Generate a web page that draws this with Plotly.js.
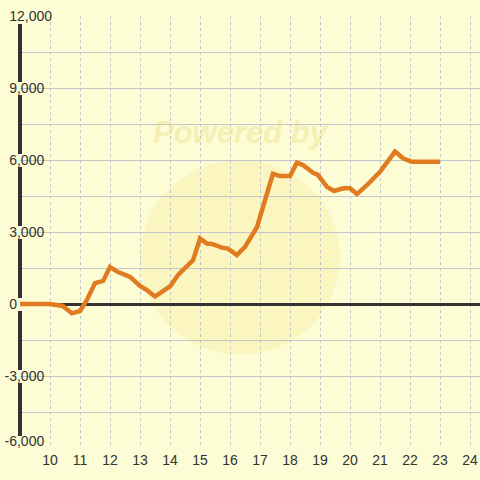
<!DOCTYPE html>
<html>
<head>
<meta charset="utf-8">
<script src="https://cdn.plot.ly/plotly-3.0.1.min.js"></script>
<style>
html,body{margin:0;padding:0;background:#fcfcd5;}
#chart{width:480px;height:480px;}
</style>
</head>
<body>
<div id="chart"></div>
<script>
// Data
var xValues = [9.0, 10.0, 10.43, 10.73, 11.0, 11.23, 11.5, 11.77, 12.0, 12.27, 12.67, 13.0, 13.23, 13.5, 14.0, 14.27, 14.77, 15.0, 15.23, 15.4, 15.73, 15.93, 16.23, 16.5, 16.9, 17.1, 17.43, 17.67, 18.0, 18.23, 18.43, 18.77, 18.93, 19.23, 19.47, 19.77, 20.0, 20.23, 20.57, 21.0, 21.5, 21.77, 22.05, 23.0];
var yValues = [0, 0, -80, -390, -290, 170, 870, 960, 1540, 1330, 1130, 750, 580, 310, 730, 1210, 1830, 2730, 2520, 2500, 2350, 2310, 2040, 2380, 3210, 4000, 5420, 5330, 5330, 5890, 5790, 5470, 5380, 4880, 4710, 4820, 4820, 4580, 4960, 5510, 6350, 6070, 5930, 5930];
var yTickVals = [-4500, -3000, -1500, 0, 1500, 3000, 4500, 6000, 7500, 9000, 10500, 12000];
var yTickText = ['', '-3,000', '', '0', '', '3,000', '', '6,000', '', '9,000', '', '12,000'];
var yBottomTickVals = [-6000];
var yBottomTickText = ['-6,000'];
var xTickVals = [10, 11, 12, 13, 14, 15, 16, 17, 18, 19, 20, 21, 22, 23, 24];

var bg = '#fcfcd5';
var FS = '\u2007', PS = '\u2008';
// pad labels so that they line up on the left like in the reference
function padLabel(t) {
  if (t === '') return t;
  if (t === '12,000') return t;
  if (t === '0') return t + FS + FS + FS + FS + PS;
  return t + FS;
}

var trace = {
  x: xValues, y: yValues, type: 'scatter', mode: 'lines',
  line: {color: '#e07b22', width: 4.5, shape: 'linear'},
  hoverinfo: 'skip'
};

// y-axis spine, broken where the tick labels sit
var spineSegments = [[11667, 9250], [8708, 6250], [5708, 3250], [2708, 250], [-292, -2750], [-3292, -5500]];
var shapes = [
  {type: 'circle', xref: 'x', yref: 'y', x0: 13.0, x1: 19.67, y0: -2100, y1: 6000,
   fillcolor: 'rgba(250,225,110,0.2)', line: {width: 0}, layer: 'below'}
];
spineSegments.forEach(function (s) {
  shapes.push({type: 'line', xref: 'paper', yref: 'y', x0: 0, x1: 0, y0: s[0], y1: s[1],
    line: {color: '#333333', width: 4}, layer: 'above'});
});

var layout = {
  width: 480, height: 480,
  margin: {l: 20, r: 0, t: 16, b: 32, pad: 0},
  paper_bgcolor: bg, plot_bgcolor: bg,
  showlegend: false,
  font: {family: 'Liberation Sans, Arial, sans-serif', size: 14, color: '#333333'},
  xaxis: {
    range: [9, 24.333], tickvals: xTickVals, ticktext: xTickVals.map(String),
    showgrid: true, gridcolor: '#c4c4cc', gridwidth: 1, griddash: '3px,3px',
    zeroline: false, showline: false, ticks: '', ticklabelstandoff: 2,
    tickfont: {size: 14, color: '#333333'}
  },
  yaxis: {
    range: [-6000, 12000],
    tickvals: yTickVals,
    ticktext: yTickText.map(padLabel),
    showgrid: true, gridcolor: '#c4c4cc', gridwidth: 1,
    zeroline: true, zerolinecolor: '#333333', zerolinewidth: 3,
    showline: false, ticks: '',
    ticklabelposition: 'outside', ticklabelstandoff: -33,
    tickfont: {size: 14, color: '#333333'}
  },
  yaxis2: {
    overlaying: 'y', side: 'left', anchor: 'x',
    range: [-6000, 12000],
    tickvals: yBottomTickVals,
    ticktext: yBottomTickText.map(padLabel),
    showgrid: true, gridcolor: '#c4c4cc', gridwidth: 1,
    zeroline: false, showline: false, ticks: '',
    ticklabelposition: 'outside', ticklabelstandoff: -33, ticklabelshift: -7,
    tickfont: {size: 14, color: '#333333'}
  },
  shapes: shapes,
  annotations: [
    {text: '<b><i>Powered by</i></b>', xref: 'x', yref: 'y', x: 16.35, y: 7150,
     showarrow: false, font: {size: 31, color: 'rgba(238,218,130,0.4)', family: 'Liberation Sans, Arial, sans-serif'}}
  ]
};

var helper = {x: [9], y: [-6000], yaxis: 'y2', type: 'scatter', mode: 'markers',
  marker: {opacity: 0}, hoverinfo: 'skip'};

Plotly.newPlot('chart', [trace, helper], layout, {staticPlot: true, displayModeBar: false});
</script>
</body>
</html>
